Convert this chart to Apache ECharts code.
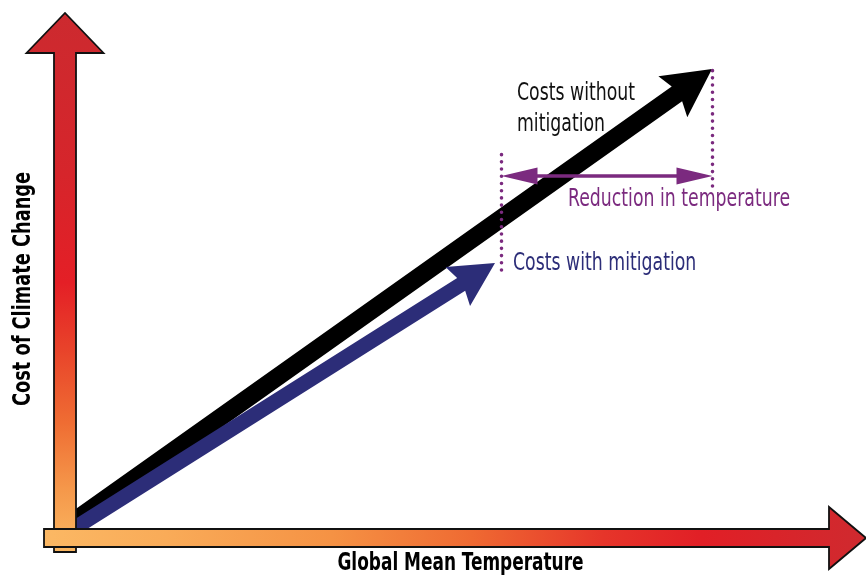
<!DOCTYPE html>
<html>
<head>
<meta charset="utf-8">
<script src="https://cdn.jsdelivr.net/npm/echarts@6/dist/echarts.min.js"></script>
<style>
html,body{margin:0;padding:0;background:#fff;}
#chart{width:866px;height:580px;}
</style>
</head>
<body>
<div id="chart"></div>
<script>
// ---- data (conceptual units: temperature on x, cost on y) ----
const xRange = [-7.3, 79.3];
const yRange = [-5.3, 52.7];
const seriesNames = ['Costs without mitigation', 'Costs with mitigation'];
const costWithout = [[-0.3, 0.3], [63.9, 45.8]];
const costWith = [[-0.3, -0.4], [42.2, 26.4]];
const tempWith = 42.85;
const tempWithout = 63.95;
const markerWith = [25.7, 37.7];      // y span of dotted marker at tempWith
const markerWithout = [34.1, 46.3];   // y span of dotted marker at tempWithout
const reductionLevel = 35.1;
const costAxisLine = [[-0.8, -2.5], [-0.8, 51.4]];
const tempAxisLine = [[-2.9, -1.1], [79.3, -1.1]];
const xTitle = 'Global Mean Temperature';
const yTitle = 'Cost of Climate Change';
const reductionLabel = 'Reduction in temperature';
const withoutLabel = ['Costs without', 'mitigation'];
const withLabel = 'Costs with mitigation';

// ---- styles ----
const FONT = "'Liberation Sans Narrow','DejaVu Sans Condensed','Arial Narrow',sans-serif";
const PURPLE = '#7b2a7f';
const NAVY = '#2c2d78';
const NARROW = 0.77;

function arrowPolygon(p0, p1, shaftHW, headLen, headHW, notchBack) {
  const dx = p1[0] - p0[0], dy = p1[1] - p0[1];
  const len = Math.sqrt(dx * dx + dy * dy);
  const ux = dx / len, uy = dy / len, nx = -uy, ny = ux;
  const P = (a, b) => [p1[0] + ux * a + nx * b, p1[1] + uy * a + ny * b];
  const S = (b) => [p0[0] + nx * b, p0[1] + ny * b];
  return [S(shaftHW), P(-notchBack, shaftHW), P(-headLen, headHW), P(0, 0),
          P(-headLen, -headHW), P(-notchBack, -shaftHW), S(-shaftHW)];
}

function doubleArrow(L, R, lineHW, headLen, headHW) {
  const dx = R[0] - L[0], dy = R[1] - L[1];
  const len = Math.sqrt(dx * dx + dy * dy);
  const ux = dx / len, uy = dy / len, nx = -uy, ny = ux;
  const A = (p, a, b) => [p[0] + ux * a + nx * b, p[1] + uy * a + ny * b];
  return [L, A(L, headLen, headHW), A(L, headLen, lineHW), A(R, -headLen, lineHW), A(R, -headLen, headHW),
          R, A(R, -headLen, -headHW), A(R, -headLen, -lineHW), A(L, headLen, -lineHW), A(L, headLen, -headHW)];
}

const vGrad = () => new echarts.graphic.LinearGradient(0, 0, 0, 1, [
  {offset: 0, color: '#cc2a2f'}, {offset: 0.3, color: '#d6252b'}, {offset: 0.5, color: '#e41f26'},
  {offset: 0.62, color: '#e8422a'}, {offset: 0.76, color: '#ef6d33'}, {offset: 0.88, color: '#f5974a'},
  {offset: 1, color: '#fab862'}]);
const hGrad = () => new echarts.graphic.LinearGradient(0, 0, 1, 0, [
  {offset: 0, color: '#fbb864'}, {offset: 0.15, color: '#f9ab58'}, {offset: 0.35, color: '#f59244'},
  {offset: 0.52, color: '#ef6a32'}, {offset: 0.68, color: '#e6352a'}, {offset: 0.8, color: '#e11f26'},
  {offset: 1, color: '#cf2a2f'}]);

function segItem(seg) { return [seg[0][0], seg[0][1], seg[1][0], seg[1][1]]; }

function label(text, x, y, size, color, opts) {
  opts = opts || {};
  return {
    type: 'text', z: 100, x: x, y: y, scaleX: opts.scale || NARROW, rotation: opts.rotation || 0,
    style: {text: text, x: 0, y: 0, font: (opts.bold ? 'bold ' : '') + size + 'px ' + FONT, fill: color,
            textAlign: opts.align || 'left', textVerticalAlign: 'middle'}
  };
}

const chart = echarts.init(document.getElementById('chart'), null, {renderer: 'canvas'});

const option = {
  backgroundColor: '#ffffff',
  animation: false,
  grid: {left: 0, right: 0, top: 0, bottom: 0},
  xAxis: {type: 'value', min: xRange[0], max: xRange[1], show: false},
  yAxis: {type: 'value', min: yRange[0], max: yRange[1], show: false},
  series: [
    {
      name: seriesNames[0], type: 'custom', z: 2,
      data: [segItem(costWithout)],
      renderItem: (params, api) => {
        const p0 = api.coord([api.value(0), api.value(1)]);
        const p1 = api.coord([api.value(2), api.value(3)]);
        return {type: 'polygon', shape: {points: arrowPolygon(p0, p1, 9, 48, 25, 43)},
                style: {fill: '#000000'}};
      }
    },
    {
      name: seriesNames[1], type: 'custom', z: 3,
      data: [segItem(costWith)],
      renderItem: (params, api) => {
        const p0 = api.coord([api.value(0), api.value(1)]);
        const p1 = api.coord([api.value(2), api.value(3)]);
        return {type: 'polygon', shape: {points: arrowPolygon(p0, p1, 7.5, 44, 23, 40)},
                style: {fill: NAVY}};
      }
    },
    {
      name: 'markers', type: 'custom', z: 4,
      data: [[tempWith, markerWith[0], tempWith, markerWith[1]],
             [tempWithout, markerWithout[0], tempWithout, markerWithout[1]]],
      renderItem: (params, api) => {
        const p0 = api.coord([api.value(0), api.value(1)]);
        const p1 = api.coord([api.value(2), api.value(3)]);
        return {type: 'line', shape: {x1: p0[0], y1: p0[1], x2: p1[0], y2: p1[1]},
                style: {stroke: PURPLE, lineWidth: 3.6, lineDash: [0.01, 7.2], lineCap: 'round', fill: null}};
      }
    },
    {
      name: 'reduction', type: 'custom', z: 5,
      data: [[tempWith, reductionLevel, tempWithout, reductionLevel]],
      renderItem: (params, api) => {
        const p0 = api.coord([api.value(0), api.value(1)]);
        const p1 = api.coord([api.value(2), api.value(3)]);
        return {type: 'polygon', shape: {points: doubleArrow(p0, p1, 1.7, 36, 8.5)},
                style: {fill: PURPLE}};
      }
    },
    {
      name: 'axes', type: 'custom', z: 6,
      data: [segItem(costAxisLine), segItem(tempAxisLine)],
      renderItem: (params, api) => {
        const p0 = api.coord([api.value(0), api.value(1)]);
        const p1 = api.coord([api.value(2), api.value(3)]);
        const vertical = params.dataIndex === 0;
        const pts = vertical ? arrowPolygon(p0, p1, 11, 40, 38.5, 40) : arrowPolygon(p0, p1, 9, 37, 31, 37);
        return {type: 'polygon', z2: vertical ? 1 : 2, shape: {points: pts},
                style: {fill: vertical ? vGrad() : hGrad(), stroke: '#111111', lineWidth: 1.8, lineJoin: 'miter'}};
      }
    }
  ],
  graphic: [
    label(withoutLabel[0], 517, 93, 25, '#111111'),
    label(withoutLabel[1], 517, 124, 25, '#111111'),
    label(reductionLabel, 568, 199, 25, PURPLE),
    label(withLabel, 513, 263, 25, NAVY),
    label(xTitle, 460.5, 564, 24, '#000000', {bold: true, align: 'center', scale: 0.785}),
    label(yTitle, 23.5, 289, 25, '#000000', {bold: true, align: 'center', scale: 0.79, rotation: Math.PI / 2})
  ]
};
chart.setOption(option);
</script>
</body>
</html>
